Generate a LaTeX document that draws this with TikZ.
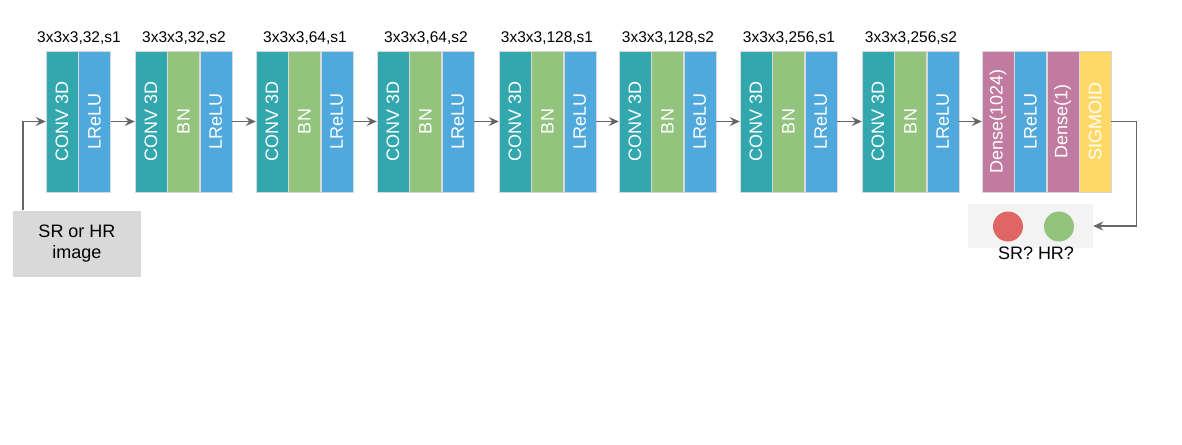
\documentclass[tikz,border=0pt]{standalone}
\usepackage{fontspec}
\setmainfont{Liberation Sans}
\usetikzlibrary{arrows.meta,positioning}
\definecolor{convcol}{HTML}{32A8AE}
\definecolor{bncol}{HTML}{93C47D}
\definecolor{relucol}{HTML}{4FA9DC}
\definecolor{densecol}{HTML}{C27BA0}
\definecolor{sigcol}{HTML}{FFD966}
\definecolor{arrcol}{HTML}{666666}
\definecolor{incol}{HTML}{D9D9D9}
\definecolor{outcol}{HTML}{F3F3F3}
\definecolor{srcol}{HTML}{E06666}
\newcommand{\vtext}[1]{\rotatebox{90}{#1}}
\tikzset{
  strip/.style={minimum width=32pt,minimum height=141pt,inner sep=0pt,
                draw=white!85!black,line width=0.4pt,text=white,
                font=\fontsize{18}{20}\selectfont},
  lbl/.style={font=\fontsize{15.5}{18}\selectfont},
  arr/.style={draw=arrcol,line width=1.7pt,-{Stealth[length=10pt,width=9pt,inset=3.5pt]}},
}
\begin{document}
\begin{tikzpicture}[x=1pt,y=-1pt]
\useasboundingbox (0,0) rectangle (1182,444);
% block 1
\node[lbl] at (79,38) {3x3x3,32,s1};
\node[strip,fill=convcol] (c1) at (62,121.5) {\vtext{CONV 3D}};
\node[strip,fill=relucol,right=0pt of c1] (r1) {\vtext{LReLU}};
% block 2
\node[lbl] at (184,38) {3x3x3,32,s2};
\node[strip,fill=convcol] (c2) at (151,121.5) {\vtext{CONV 3D}};
\node[strip,fill=bncol,right=0pt of c2] (b2) {\vtext{BN}};
\node[strip,fill=relucol,right=0pt of b2] (r2) {\vtext{LReLU}};
% block 3
\node[lbl] at (305,38) {3x3x3,64,s1};
\node[strip,fill=convcol] (c3) at (272,121.5) {\vtext{CONV 3D}};
\node[strip,fill=bncol,right=0pt of c3] (b3) {\vtext{BN}};
\node[strip,fill=relucol,right=0pt of b3] (r3) {\vtext{LReLU}};
% block 4
\node[lbl] at (426,38) {3x3x3,64,s2};
\node[strip,fill=convcol] (c4) at (393,121.5) {\vtext{CONV 3D}};
\node[strip,fill=bncol,right=0pt of c4] (b4) {\vtext{BN}};
\node[strip,fill=relucol,right=0pt of b4] (r4) {\vtext{LReLU}};
% block 5
\node[lbl] at (547,38) {3x3x3,128,s1};
\node[strip,fill=convcol] (c5) at (515,121.5) {\vtext{CONV 3D}};
\node[strip,fill=bncol,right=0pt of c5] (b5) {\vtext{BN}};
\node[strip,fill=relucol,right=0pt of b5] (r5) {\vtext{LReLU}};
% block 6
\node[lbl] at (668,38) {3x3x3,128,s2};
\node[strip,fill=convcol] (c6) at (635,121.5) {\vtext{CONV 3D}};
\node[strip,fill=bncol,right=0pt of c6] (b6) {\vtext{BN}};
\node[strip,fill=relucol,right=0pt of b6] (r6) {\vtext{LReLU}};
% block 7
\node[lbl] at (789,38) {3x3x3,256,s1};
\node[strip,fill=convcol] (c7) at (756,121.5) {\vtext{CONV 3D}};
\node[strip,fill=bncol,right=0pt of c7] (b7) {\vtext{BN}};
\node[strip,fill=relucol,right=0pt of b7] (r7) {\vtext{LReLU}};
% block 8
\node[lbl] at (911,38) {3x3x3,256,s2};
\node[strip,fill=convcol] (c8) at (878,121.5) {\vtext{CONV 3D}};
\node[strip,fill=bncol,right=0pt of c8] (b8) {\vtext{BN}};
\node[strip,fill=relucol,right=0pt of b8] (r8) {\vtext{LReLU}};
% dense head
\node[strip,fill=densecol] (d1) at (998,121.5) {\vtext{Dense(1024)}};
\node[strip,fill=relucol,right=0pt of d1] (r9) {\vtext{LReLU}};
\node[strip,fill=densecol,right=0pt of r9] (d2) {\vtext{Dense(1)}};
\node[strip,fill=sigcol,right=0pt of d2] (sg) {\vtext{SIGMOID}};
% input and output
\node[fill=incol,minimum width=128pt,minimum height=66pt,align=center,
      font=\fontsize{18}{21}\selectfont] (in) at (77,243.5) {SR or HR\\image};
\node[fill=outcol,minimum width=125pt,minimum height=44pt] (out) at (1030.5,226) {};
\node[circle,fill=srcol,minimum size=30pt,inner sep=0pt] (sr) at (1008,226.5) {};
\node[circle,fill=bncol,minimum size=30pt,inner sep=0pt] (hr) at (1059,226.5) {};
\node[font=\fontsize{18}{20}\selectfont] (ans) at (1036,253) {SR? HR?};
% connectors
\draw[arr] ([xshift=10pt]in.north west) |- (c1.west);
\draw[arr] (r1) -- (c2);
\draw[arr] (r2) -- (c3);
\draw[arr] (r3) -- (c4);
\draw[arr] (r4) -- (c5);
\draw[arr] (r5) -- (c6);
\draw[arr] (r6) -- (c7);
\draw[arr] (r7) -- (c8);
\draw[arr] (r8) -- (d1);
\draw[arr] (sg.east) -- ++(25,0) |- (out.east);
\end{tikzpicture}
\end{document}
